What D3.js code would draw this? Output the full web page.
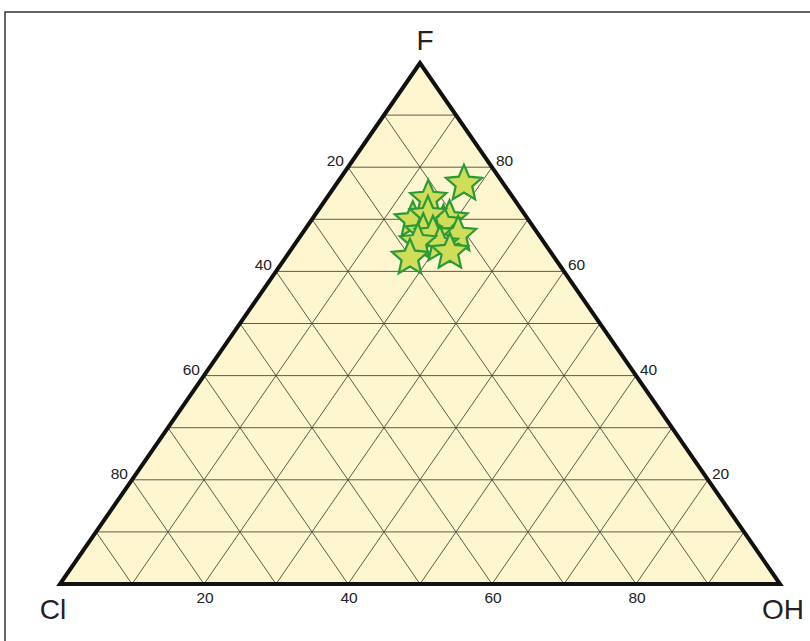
<!DOCTYPE html>
<html><head><meta charset="utf-8">
<script src="https://cdn.jsdelivr.net/npm/d3@7"></script>
<style>body{margin:0;background:#fff}svg{display:block}</style>
</head><body>
<svg id="c" width="810" height="641"></svg>
<script>
// Sample compositions (percent)
const sampleF  = [70.2, 74.3, 70.4, 69.5, 71.2, 77.2, 67.4, 67.9, 67.4, 65.5, 66.0, 64.1, 63.0];
const sampleOH = [13.9, 14.0, 18.9, 18.5, 15.5, 17.5, 21.6, 16.5, 18.1, 20.0, 16.7, 22.1, 17.1];
const sampleCl = sampleF.map((f,i)=>100 - f - sampleOH[i]);
const gridValues = [10,20,30,40,50,60,70,80,90];
const leftTicks = [20,40,60,80];   // Cl, on left edge
const rightTicks = [80,60,40,20];  // F, on right edge
const bottomTicks = [20,40,60,80]; // OH, on bottom edge
const apexLabels = {top:"F", left:"Cl", right:"OH"};

const svg = d3.select("#c");
const xs = d3.scaleLinear().domain([0,100]).range([60,780]);
const ys = d3.scaleLinear().domain([0,100]).range([584,63]);
function pt(f, oh){ return [xs(oh + f/2), ys(f)]; }

svg.append("rect").attr("x",5).attr("y",12).attr("width",820).attr("height",650)
  .attr("fill","#fff").attr("stroke","#333").attr("stroke-width",1.5);

const tri = [pt(100,0), pt(0,0), pt(0,100)];
svg.append("polygon").attr("points", tri.map(p=>p.join(",")).join(" "))
  .attr("fill","#fdf6cf");

const grid = svg.append("g").attr("stroke","#4e4a3a").attr("stroke-width",0.9).attr("fill","none");
gridValues.forEach(v=>{
  let a = pt(v, 0), b = pt(v, 100-v);
  grid.append("line").attr("x1",a[0]).attr("y1",a[1]).attr("x2",b[0]).attr("y2",b[1]);
  a = pt(0, v); b = pt(100-v, v);
  grid.append("line").attr("x1",a[0]).attr("y1",a[1]).attr("x2",b[0]).attr("y2",b[1]);
  a = pt(0, 100-v); b = pt(100-v, 0);
  grid.append("line").attr("x1",a[0]).attr("y1",a[1]).attr("x2",b[0]).attr("y2",b[1]);
});

svg.append("polygon").attr("points", tri.map(p=>p.join(",")).join(" "))
  .attr("fill","none").attr("stroke","#111").attr("stroke-width",4).attr("stroke-linejoin","miter");

const font = "Liberation Sans, Arial, sans-serif";
const tl = svg.append("g").attr("font-family",font).attr("font-size",15.5).attr("fill","#222");
leftTicks.forEach(c=>{
  const p = pt(100-c, 0);
  tl.append("text").attr("x",p[0]-4).attr("y",p[1]-1).attr("text-anchor","end").text(c);
});
rightTicks.forEach(f=>{
  const p = pt(f, 100-f);
  tl.append("text").attr("x",p[0]+4).attr("y",p[1]-1).attr("text-anchor","start").text(f);
});
bottomTicks.forEach(o=>{
  const p = pt(0, o);
  tl.append("text").attr("x",p[0]+1).attr("y",p[1]+19).attr("text-anchor","middle").text(o);
});

const al = svg.append("g").attr("font-family",font).attr("font-size",28).attr("fill","#222");
al.append("text").attr("x",425).attr("y",50).attr("text-anchor","middle").text(apexLabels.top);
al.append("text").attr("x",53).attr("y",619).attr("text-anchor","middle").text(apexLabels.left);
al.append("text").attr("x",783).attr("y",619).attr("text-anchor","middle").text(apexLabels.right);

// fatter five-point star symbol
const fatStar = {
  draw(ctx, size){
    const R = Math.sqrt(size) , r = R*0.46;
    for(let k=0;k<10;k++){
      const rad = k%2===0 ? R : r;
      const a = -Math.PI/2 + k*Math.PI/5;
      const x = rad*Math.cos(a), y = rad*Math.sin(a);
      if(k===0) ctx.moveTo(x,y); else ctx.lineTo(x,y);
    }
    ctx.closePath();
  }
};
const star = d3.symbol().type(fatStar).size(19*19);
svg.append("g").selectAll("path").data(sampleF).join("path")
  .attr("d", star)
  .attr("transform",(f,i)=>{ const p = pt(f, sampleOH[i]); return `translate(${p[0]},${p[1]+2})`; })
  .attr("fill","#cfdd58").attr("stroke","#2a9a38").attr("stroke-width",2.2).attr("stroke-linejoin","miter");
</script>
</body></html>
